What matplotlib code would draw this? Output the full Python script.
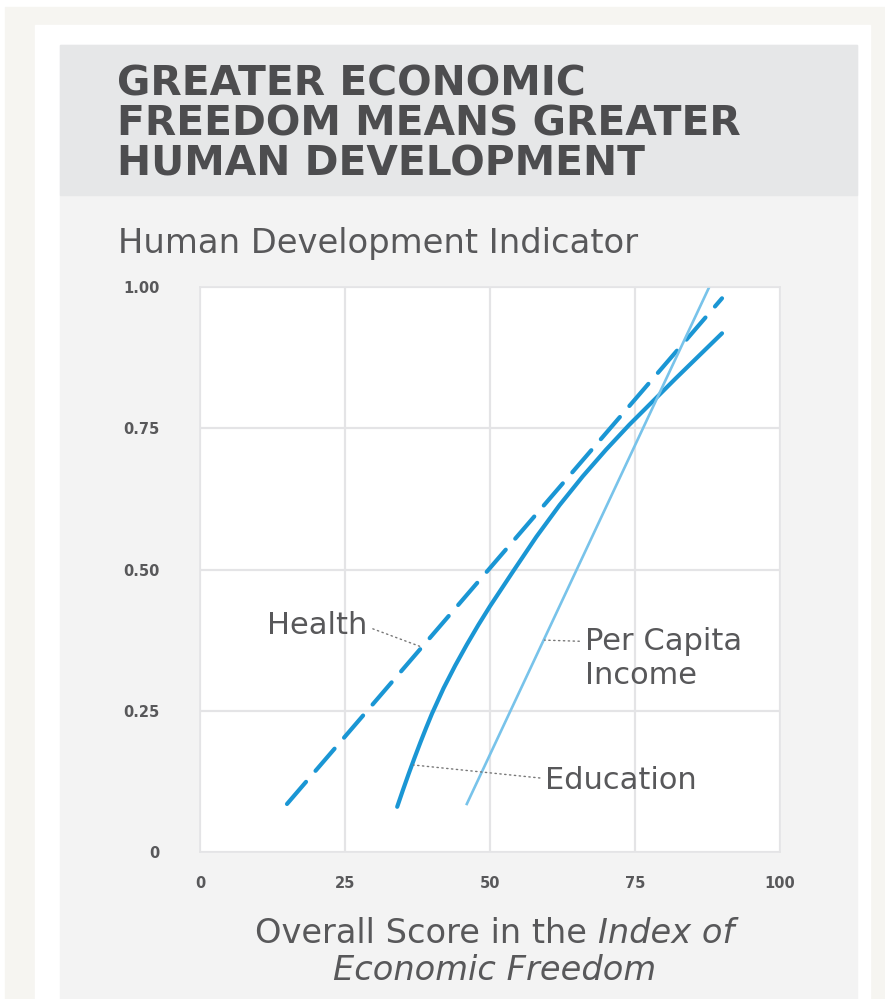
import matplotlib.pyplot as plt
from matplotlib.patches import Rectangle

# Trend lines: index score vs. human development components
health_x = [15, 90]
health_y = [0.085, 0.98]
education_x = [34, 35, 36, 37, 38, 39, 40, 42, 44, 46, 48, 50, 54, 58, 62, 66, 70, 74, 78, 82, 86, 90]
education_y = [0.08, 0.11, 0.139, 0.167, 0.194, 0.22, 0.245, 0.29, 0.33, 0.367, 0.402, 0.435,
               0.497, 0.558, 0.614, 0.665, 0.712, 0.756, 0.797, 0.838, 0.878, 0.918]
income_x = [46, 87.8]
income_y = [0.085, 1.0]

x_ticks = [0, 25, 50, 75, 100]
y_ticks = [0, 0.25, 0.5, 0.75, 1.0]
y_tick_labels = ['0', '0.25', '0.50', '0.75', '1.00']

title = 'GREATER ECONOMIC\nFREEDOM MEANS GREATER\nHUMAN DEVELOPMENT'

W, H = 885, 999
dark_blue = '#1a96d4'
light_blue = '#78c3ea'
text_grey = '#58585a'

plt.rcParams['font.family'] = ['DejaVu Sans']

fig = plt.figure(figsize=(W / 100, H / 100), dpi=100)


def box(x0, y0, x1, y1, color):
    # rectangles given in pixels from the top-left corner
    fig.patches.append(Rectangle((x0 / W, 1 - y1 / H), (x1 - x0) / W, (y1 - y0) / H,
                                 transform=fig.transFigure, color=color, zorder=-10))


def py(y):
    return 1 - y / H


box(5, 7, 885, 999, '#f6f5f1')
box(35, 25, 870, 999, 'white')
box(60, 45, 857, 999, '#f3f3f3')
box(60, 45, 857, 195, '#e6e7e8')

# baseline of the last title line
fig.text(117 / W, py(176), title, fontsize=29.3, fontweight='bold', color='#4d4d4f',
         va='baseline', ha='left', linespacing=1.0)
fig.text(118 / W, py(253), 'Human Development Indicator', fontsize=24.3,
         color=text_grey, va='baseline', ha='left')

ax = fig.add_axes([200 / W, 1 - 852 / H, 580 / W, 565 / H])
ax.set_facecolor('white')
ax.set_xlim(0, 100)
ax.set_ylim(0, 1)
ax.set_xticks(x_ticks)
ax.set_yticks(y_ticks)
ax.set_yticklabels(y_tick_labels)
ax.tick_params(length=0, labelsize=10.5, labelcolor=text_grey)
ax.tick_params(axis='x', pad=17)
ax.tick_params(axis='y', pad=29)
for lbl in ax.get_xticklabels() + ax.get_yticklabels():
    lbl.set_fontweight('bold')
ax.grid(True, color='#e4e4e6', lw=1.6)
ax.set_axisbelow(True)
for s in ax.spines.values():
    s.set_color('#e4e4e6')
    s.set_linewidth(1.2)

ax.plot(health_x, health_y, color=dark_blue, lw=3, ls=(0, (7, 3.5)),
        dash_capstyle='round')
ax.plot(education_x, education_y, color=dark_blue, lw=3, solid_capstyle='round',
        solid_joinstyle='round')
ax.plot(income_x, income_y, color=light_blue, lw=1.9)

# series labels with dotted leaders
leader = dict(arrowstyle='-', color='#777777', lw=1, ls=(0, (1, 2.5)),
              shrinkA=0, shrinkB=0)
lbl_kw = dict(fontsize=22, color=text_grey, va='baseline')
ax.annotate('', xy=(37.9, 0.364), xytext=(29.8, 0.395), arrowprops=leader)
ax.text(28.9, 0.386, 'Health', ha='right', **lbl_kw)
ax.annotate('', xy=(59.4, 0.375), xytext=(65.4, 0.373), arrowprops=leader)
ax.text(66.4, 0.358, 'Per Capita', ha='left', **lbl_kw)
ax.text(66.4, 0.298, 'Income', ha='left', **lbl_kw)
ax.annotate('', xy=(36.8, 0.154), xytext=(58.6, 0.131), arrowprops=leader)
ax.text(59.5, 0.112, 'Education', ha='left', **lbl_kw)

# axis title with italic publication name
fig.canvas.draw()
r = fig.canvas.get_renderer()
t1 = fig.text(0, py(943), 'Overall Score in the ', fontsize=24.2, color=text_grey,
              va='baseline')
t2 = fig.text(0, py(943), 'Index of', fontsize=24.2, color=text_grey, va='baseline',
              style='italic')
w1 = t1.get_window_extent(r).width
w2 = t2.get_window_extent(r).width
x0 = 495 - (w1 + w2) / 2
t1.set_x(x0 / W)
t2.set_x((x0 + w1) / W)
fig.text(495 / W, py(980), 'Economic Freedom', fontsize=24.2, color=text_grey,
         va='baseline', ha='center', style='italic')

fig.savefig('out.png', dpi=100)
